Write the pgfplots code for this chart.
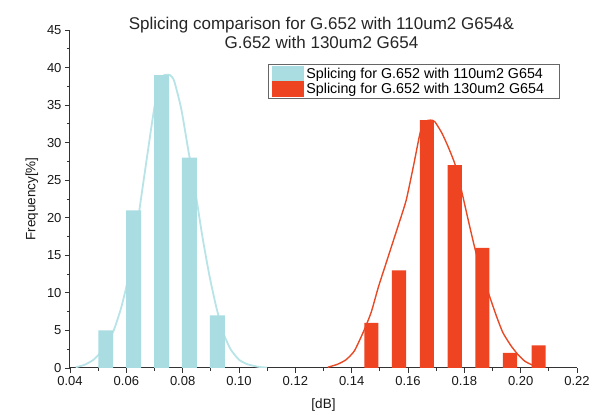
\documentclass[border=0pt]{standalone}
\usepackage{fontspec}
\setmainfont{Liberation Sans}
\usepackage{pgfplots}
\pgfplotsset{compat=1.18}
\definecolor{cyanbar}{HTML}{AADDE2}
\definecolor{cyanline}{HTML}{B8E4E8}
\definecolor{redbar}{HTML}{EE4422}
\definecolor{redline}{HTML}{E84A26}
\begin{document}
\begin{tikzpicture}
\path[use as bounding box, fill=white] (-70pt,-47pt) rectangle (525pt,368pt);
\begin{axis}[
  scale only axis, width=507pt, height=338pt,
  clip mode=individual,
  xmin=0.04, xmax=0.22, ymin=0, ymax=45,
  axis x line*=bottom, axis y line*=left,
  axis line style={-, line width=1pt, black!80},
  every tick/.style={black!80, line width=0.8pt},
  tick align=outside,
  major tick length=5pt, minor tick length=3pt,
  xtick={0.04,0.06,0.08,0.10,0.12,0.14,0.16,0.18,0.20,0.22},
  minor x tick num=1,
  ytick={0,5,10,15,20,25,30,35,40,45}, minor y tick num=1,
  scaled x ticks=false,
  x tick label style={/pgf/number format/fixed, /pgf/number format/fixed zerofill, /pgf/number format/precision=2},
  /pgf/number format/assume math mode=true,
  tick label style={font=\fontsize{13}{15}\selectfont, black!90},
  xlabel={[dB]}, ylabel={Frequency[\%]},
  label style={font=\fontsize{13.5}{15}\selectfont, black!90},
  xlabel style={at={(axis description cs:0.5,-0.11)}, anchor=center},
  ylabel style={at={(axis description cs:-0.075,0.5)}, anchor=center},
  legend style={at={(rel axis cs:0.3905,0.9)}, anchor=north west, draw=black!60, line width=0.8pt,
    font=\fontsize{14.3}{15}\selectfont, row sep=-1.5pt, inner xsep=4pt, inner ysep=2pt, cells={anchor=west}},
  legend image code/.code={\fill[#1] (3pt,-8pt) rectangle (35pt,8pt);},
]
\addplot[smooth, tension=0.35, cyanline, line width=1.8pt, forget plot] coordinates {
(0.042,0.1)(0.045,0.4)(0.048,1.0)(0.050,1.7)(0.053,3.3)(0.0555,5.0)(0.058,7.8)(0.060,10.8)
(0.0625,15.5)(0.065,22.0)(0.0675,28.5)(0.070,34.8)(0.072,38.3)(0.0735,39.0)(0.0755,39.0)
(0.077,38.2)(0.0795,34.5)(0.082,29.0)(0.0845,23.5)(0.087,17.5)(0.0895,12.3)(0.092,8.0)
(0.0945,4.6)(0.097,2.5)(0.100,1.1)(0.103,0.5)(0.107,0.15)(0.110,0.05)};
\addplot[smooth, tension=0.35, redline, line width=1.4pt, forget plot] coordinates {
(0.1315,0.1)(0.135,0.5)(0.138,1.1)(0.141,2.3)(0.1445,5.1)(0.147,7.5)(0.1495,10.8)(0.152,13.7)
(0.1545,16.6)(0.157,19.5)(0.1594,22.4)(0.162,27.0)(0.1643,31.3)(0.166,32.8)(0.168,33.0)
(0.1695,32.8)(0.172,31.3)(0.1742,29.5)(0.1768,27.0)(0.1792,23.3)(0.1815,19.5)(0.1839,15.7)
(0.1865,12.3)(0.189,9.5)(0.1915,6.8)(0.1937,4.7)(0.1965,3.0)(0.199,1.8)(0.2015,0.9)
(0.2041,0.4)(0.206,0.15)};
\addplot[ybar, bar shift=0pt, bar width=0.0053, fill=cyanbar, draw=none] coordinates {
(0.0527,5)(0.0626,21)(0.0725,39)(0.0824,28)(0.0923,7)};
\addlegendentry{Splicing for G.652 with 110um2 G654\hspace*{9pt}}
\addplot[ybar, bar shift=0pt, bar width=0.0050, fill=redbar, draw=none] coordinates {
(0.1470,6)(0.1568,13)(0.1667,33)(0.1766,27)(0.1864,16)(0.1962,2)(0.2064,3)};
\addlegendentry{Splicing for G.652 with 130um2 G654\hspace*{9pt}}
\node[anchor=north, align=center, inner sep=0pt, font=\fontsize{17}{19.5}\selectfont, text=black!85]
  at (rel axis cs:0.496,1.04) {Splicing comparison for G.652 with 110um2 G654\&\\G.652 with 130um2 G654};
\end{axis}
\end{tikzpicture}
\end{document}
